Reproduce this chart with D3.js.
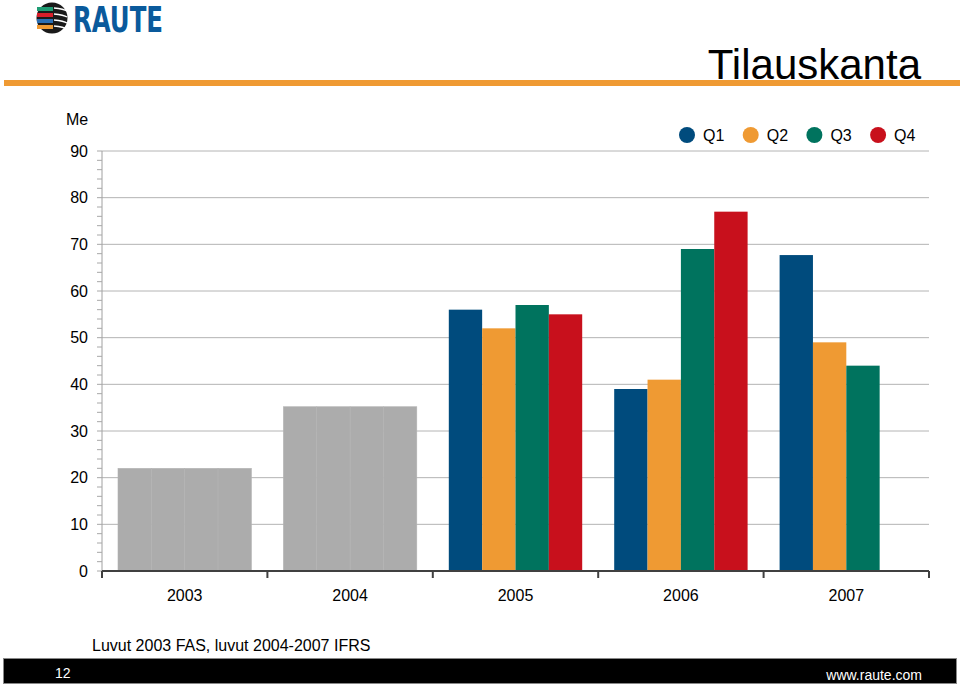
<!DOCTYPE html>
<html>
<head>
<meta charset="utf-8">
<script src="https://cdn.jsdelivr.net/npm/d3@7"></script>
<style>
  body { margin: 0; background: #fff; }
  svg { display: block; font-family: "Liberation Sans", Arial, sans-serif; }
</style>
</head>
<body>
<script>
// tilauskanta per vuosi, Q1..Q4 (Me)
const years = ["2003", "2004", "2005", "2006", "2007"];
const quarters = ["Q1", "Q2", "Q3", "Q4"];
const q1 = [22, 35.2, 56, 39, 67.7];
const q2 = [22, 35.2, 52, 41, 49];
const q3 = [22, 35.2, 57, 69, 44];
const q4 = [22, 35.2, 55, 77, null];
const grayYears = ["2003", "2004"]; // ei neljännesvuosidataa
const yTicks = [0, 10, 20, 30, 40, 50, 60, 70, 80, 90];
const colors = ["#004b7d", "#ef9a33", "#00735e", "#c8101c"];

const W = 960, H = 686;
const svg = d3.select("body").append("svg").attr("width", W).attr("height", H);

// header
const logo = svg.append("g").attr("transform", "translate(52,18)");
logo.append("circle").attr("r", 15.5).attr("fill", "#1a1a1a");
const stripes = [["#1f9d74", -9], ["#d81e2a", -3], ["#2a6fb5", 3], ["#ef9a33", 9]];
stripes.forEach(s => {
  logo.append("rect").attr("x", -15).attr("y", s[1] - 2).attr("width", 16).attr("height", 4).attr("fill", s[0]);
});
[-10, -4, 2, 8].forEach(o => {
  logo.append("path").attr("d", `M2,${o} Q12,${o + 1} 15,${o + 3}`)
    .attr("stroke", "#fff").attr("stroke-width", 1.5).attr("fill", "none");
});
svg.append("text").attr("x", 73).attr("y", 32)
  .attr("font-family", "'Liberation Sans Narrow', 'DejaVu Sans Condensed', sans-serif")
  .attr("font-weight", "bold").attr("font-size", 36)
  .attr("textLength", 90).attr("lengthAdjust", "spacingAndGlyphs")
  .attr("fill", "#0a5a9c").text("RAUTE");

svg.append("rect").attr("x", 4).attr("y", 80).attr("width", 956).attr("height", 6).attr("fill", "#ef9a33");
svg.append("text").attr("x", 921).attr("y", 79).attr("text-anchor", "end")
  .attr("font-size", 42).attr("fill", "#000").text("Tilauskanta");

// scales
const x = d3.scaleBand().domain(years).range([102, 929]);
const xq = d3.scaleBand().domain(quarters).range([16, x.bandwidth() - 16]);
const y = d3.scaleLinear().domain([0, 90]).range([571, 151]);

// gridlines
svg.append("g").selectAll("line").data(yTicks.filter(d => d > 0)).join("line")
  .attr("x1", 102).attr("x2", 929)
  .attr("y1", d => y(d)).attr("y2", d => y(d))
  .attr("stroke", "#b4b4b4").attr("stroke-width", 1);

// y axis with minor ticks
const yAxis = svg.append("g").attr("transform", "translate(102,0)");
yAxis.append("line").attr("y1", y(90)).attr("y2", y(0)).attr("stroke", "#a0a0a0");
yAxis.selectAll(".minor").data(d3.range(0, 91, 2)).join("line")
  .attr("x1", -5).attr("x2", 0)
  .attr("y1", d => y(d)).attr("y2", d => y(d))
  .attr("stroke", "#a8a8a8");
yAxis.selectAll("text").data(yTicks).join("text")
  .attr("x", -14).attr("y", d => y(d)).attr("dy", "0.35em")
  .attr("text-anchor", "end").attr("font-size", 16).attr("fill", "#000")
  .text(d => d);
svg.append("text").attr("x", 66).attr("y", 125).attr("font-size", 16).text("Me");

// bars
const series = [q1, q2, q3, q4];
const barData = [];
years.forEach((yr, i) => {
  quarters.forEach((q, j) => {
    const v = series[j][i];
    if (v != null) barData.push({ year: yr, q, j, v, gray: grayYears.includes(yr) });
  });
});
svg.append("g").selectAll("rect").data(barData).join("rect")
  .attr("x", d => x(d.year) + xq(d.q))
  .attr("y", d => y(d.v))
  .attr("width", xq.bandwidth())
  .attr("height", d => y(0) - y(d.v))
  .attr("fill", d => d.gray ? "#acacac" : colors[d.j])
  .attr("stroke", d => d.gray ? "#b3b3b3" : "none")
  .attr("stroke-width", 0.6);

// x axis
const xAxis = svg.append("g");
xAxis.append("line").attr("x1", 102).attr("x2", 929).attr("y1", 571).attr("y2", 571)
  .attr("stroke", "#404040").attr("stroke-width", 2);
xAxis.selectAll(".tick").data(years.map(d => x(d)).concat([929])).join("line")
  .attr("x1", d => d).attr("x2", d => d).attr("y1", 571).attr("y2", 578)
  .attr("stroke", "#404040").attr("stroke-width", 2);
xAxis.selectAll("text").data(years).join("text")
  .attr("x", d => x(d) + x.bandwidth() / 2).attr("y", 601)
  .attr("text-anchor", "middle").attr("font-size", 16).text(d => d);

// legend
const leg = svg.append("g").selectAll("g").data(quarters).join("g")
  .attr("transform", (d, i) => `translate(${687 + i * 63.7},135)`);
leg.append("circle").attr("r", 8).attr("fill", (d, i) => colors[i]);
leg.append("text").attr("x", 16).attr("dy", "0.35em").attr("font-size", 16).text(d => d);

// footnote and footer
svg.append("text").attr("x", 92).attr("y", 651).attr("font-size", 16).text("Luvut 2003 FAS, luvut 2004-2007 IFRS");
svg.append("rect").attr("x", 3.5).attr("y", 658.5).attr("width", 953).attr("height", 25)
  .attr("fill", "#000").attr("stroke", "#888");
svg.append("text").attr("x", 55).attr("y", 678).attr("font-size", 14).attr("fill", "#fff").text("12");
svg.append("text").attr("x", 922).attr("y", 680).attr("text-anchor", "end")
  .attr("font-size", 14).attr("fill", "#fff").text("www.raute.com");
</script>
</body>
</html>
